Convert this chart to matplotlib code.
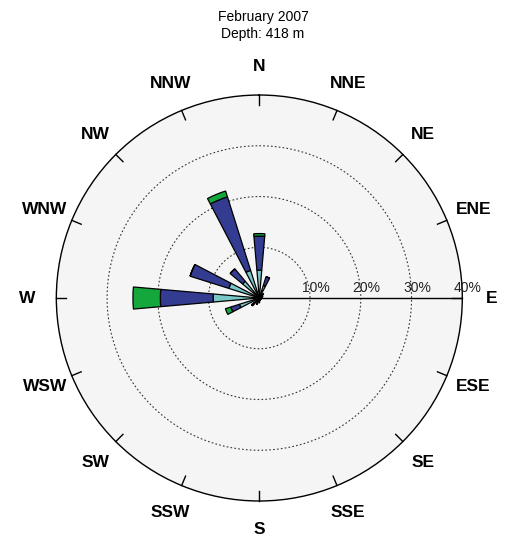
import matplotlib.pyplot as plt
import numpy as np

plt.rcParams['font.family'] = ['Liberation Sans', 'DejaVu Sans']

directions = ["N", "NNE", "NE", "ENE", "E", "ESE", "SE", "SSE",
              "S", "SSW", "SW", "WSW", "W", "WNW", "NW", "NNW"]
# percent of time per speed class (stacked from centre outwards)
slow = [5.5, 2.6, 0.8, 0.5, 0.5, 0.4, 0.4, 0.5, 0.7, 1.0, 1.5, 4.1, 9.1, 6.3, 4.3, 5.7]
mid = [6.7, 1.8, 0.3, 0.2, 0.0, 0.0, 0.0, 0.0, 0.2, 0.3, 0.5, 1.8, 10.4, 8.0, 3.2, 15.2]
fast = [0.5, 0.0, 0.0, 0.0, 0.0, 0.0, 0.0, 0.0, 0.0, 0.0, 0.0, 1.1, 5.4, 0.0, 0.0, 1.2]
rings = [10, 20, 30, 40]

title = "February 2007\nDepth: 418 m"

c_slow = '#78c8c8'
c_mid = '#333c91'
c_fast = '#14a83c'

fig = plt.figure(figsize=(5.05, 5.39), dpi=100)
ax = fig.add_axes([0.1115, 0.0705, 0.804, 0.7532], projection='polar')
ax.set_theta_zero_location('N')
ax.set_theta_direction(-1)
ax.set_ylim(0, 40)
ax.set_facecolor('#f5f5f5')
ax.grid(False)
ax.set_xticks([])
ax.set_yticks([])
ax.spines['polar'].set_linewidth(1.0)

theta = np.deg2rad(np.arange(16) * 22.5)
width = 0.175
slow = np.array(slow)
mid = np.array(mid)
fast = np.array(fast)

ax.bar(theta, slow, width=width, color=c_slow, edgecolor='k', linewidth=0.9, zorder=3)
ax.bar(theta, mid, width=width, bottom=slow, color=c_mid, edgecolor='k', linewidth=0.9, zorder=3)
ax.bar(theta, fast, width=width, bottom=slow + mid, color=c_fast, edgecolor='k', linewidth=0.9, zorder=3)

# dotted rings
circ = np.linspace(0, 2 * np.pi, 400)
for r in rings[:-1]:
    ax.plot(circ, np.full_like(circ, r), color='#333333', linestyle=(0, (1.5, 2)), linewidth=0.8, zorder=2)

# radial axis line towards E
ax.plot([np.pi / 2, np.pi / 2], [0, 40], color='k', linewidth=1.0, zorder=2)
for r in rings:
    ax.annotate(f"{r}%", xy=(np.pi / 2, r), xytext=(4, 7.5), textcoords='offset points',
                ha='center', va='center', fontsize=10, color='#222222', zorder=4)

# inward ticks + compass labels
for th, name in zip(theta, directions):
    ax.plot([th, th], [38, 40], color='k', linewidth=1.0, zorder=2, clip_on=False)
    ax.text(th, 45.7, name, ha='center', va='center', fontsize=12.5,
            fontweight='bold', clip_on=False)

fig.text(0.521, 0.952, title, ha='center', va='center', fontsize=10, linespacing=1.25)

fig.savefig('out.png', dpi=100)
